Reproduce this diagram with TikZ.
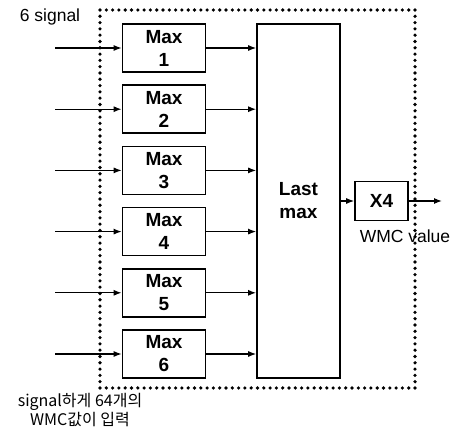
\documentclass[tikz,border=0pt]{standalone}
\usepackage{fontspec}
\setmainfont{Liberation Sans}
\newfontfamily\kofont{Noto Sans CJK KR}
\usetikzlibrary{positioning,arrows.meta}

\tikzset{
  maxbox/.style={draw, line width=1.6pt, minimum width=83pt, minimum height=48pt,
    inner sep=0pt, align=center, font=\fontsize{19}{23}\selectfont\bfseries},
  sigarrow/.style={line width=1.3pt, -{Latex[length=8pt,width=6pt]}},
  plainlabel/.style={inner sep=0pt, font=\fontsize{17.5}{18}\selectfont}
}

\begin{document}
\begin{tikzpicture}[x=1pt,y=-1pt]
\useasboundingbox (0,0) rectangle (451,428);

% Dotted frame
\draw[line width=3.6pt, line cap=round, dash pattern=on 0pt off 6.3pt] (100,10) rectangle (415,388);

% Max boxes and inputs
\foreach \i in {1,...,6}{
  \node[maxbox] (m\i) at (164,{48+61.2*(\i-1)}) {Max\\\i};
  \coordinate (in\i) at (55,{48+61.2*(\i-1)});
  \draw[sigarrow] (in\i) -- (m\i.west);
}

% Last max
\node[maxbox, minimum width=83pt, minimum height=354pt] (lastmax) at (298.5,201) {Last\\max};
\foreach \i in {1,...,6}
  \draw[sigarrow] (m\i.east) -- (m\i.east -| lastmax.west);

% Output
\node[maxbox, minimum width=53pt, minimum height=39pt] (xfour) at (381.5,201) {X4};
\draw[sigarrow] (xfour.west -| lastmax.east) -- (xfour.west);
\coordinate (out) at (442,201);
\draw[sigarrow] (xfour.east) -- (out);

% Labels
\node[plainlabel] (sig) at (50,17) {6 signal};
\node[plainlabel] (wmc) at (405,236) {WMC value};
\node[plainlabel, align=center, font=\kofont\fontsize{16}{16.5}\selectfont] (note) at (80,410)
  {signal하게 64개의\\WMC값이 입력};

\end{tikzpicture}
\end{document}
